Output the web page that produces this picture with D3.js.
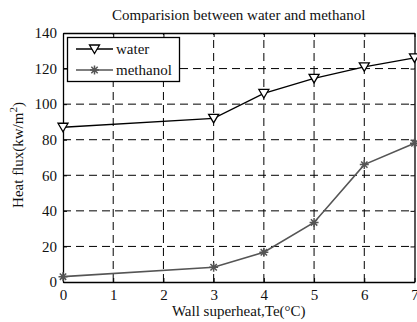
<!DOCTYPE html>
<html><head><meta charset="utf-8">
<script src="https://cdn.jsdelivr.net/npm/d3@7"></script>
<style>body{margin:0;background:#fff}svg{display:block}text{font-family:"Liberation Serif","Times New Roman",serif;fill:#111}</style>
</head><body><svg id="c" width="417" height="322"></svg>
<script>
const xValues = [0, 3, 4, 5, 6, 7];
const water = [87, 92, 106, 114.5, 121, 126];
const methanol = [3, 8.3, 16.7, 33.5, 66, 78];
const xTicks = [0, 1, 2, 3, 4, 5, 6, 7];
const yTicks = [0, 20, 40, 60, 80, 100, 120, 140];
const seriesNames = ["water", "methanol"];

const svg = d3.select("#c");
const L = 63, R = 414.5, T = 33, B = 282;
const x = d3.scaleLinear().domain([0, 7]).range([L, R]);
const y = d3.scaleLinear().domain([0, 140]).range([B, T]);

// grid
const g = svg.append("g");
g.selectAll(".vg").data(xTicks.filter(d => d > 0 && d < 7)).enter().append("line")
  .attr("x1", d => x(d)).attr("x2", d => x(d)).attr("y1", B).attr("y2", T)
  .attr("stroke", "#000").attr("stroke-width", 1).attr("stroke-dasharray", "8,5");
g.selectAll(".hg").data(yTicks.filter(d => d > 0 && d < 140)).enter().append("line")
  .attr("x1", L).attr("x2", R).attr("y1", d => y(d)).attr("y2", d => y(d))
  .attr("stroke", "#000").attr("stroke-width", 1).attr("stroke-dasharray", "8,5");

// axes
const fs = 15;
const xa = svg.append("g").attr("transform", `translate(0,${B})`)
  .call(d3.axisBottom(x).tickValues(xTicks).tickFormat(d3.format("d")).tickSize(-4).tickPadding(7).tickSizeOuter(0));
const xt = svg.append("g").attr("transform", `translate(0,${T})`)
  .call(d3.axisTop(x).tickValues(xTicks).tickSize(-4).tickFormat("").tickSizeOuter(0));
const ya = svg.append("g").attr("transform", `translate(${L},0)`)
  .call(d3.axisLeft(y).tickValues(yTicks).tickFormat(d3.format("d")).tickSize(-4).tickPadding(6).tickSizeOuter(0));
const yr = svg.append("g").attr("transform", `translate(${R},0)`)
  .call(d3.axisRight(y).tickValues(yTicks).tickSize(-4).tickFormat("").tickSizeOuter(0));
[xa, xt, ya, yr].forEach(a => {
  a.attr("font-size", fs).attr("font-family", "Liberation Serif");
  a.selectAll("path").attr("stroke", "#000").attr("stroke-width", 1.3);
  a.selectAll("line").attr("stroke", "#000").attr("stroke-width", 1);
  a.selectAll("text").attr("font-size", fs).attr("fill", "#111");
});

// lines
const line = d3.line().x((d, i) => x(xValues[i])).y(d => y(d));
svg.append("path").datum(water).attr("d", line).attr("fill", "none").attr("stroke", "#000").attr("stroke-width", 1.3);
svg.append("path").datum(methanol).attr("d", line).attr("fill", "none").attr("stroke", "#555").attr("stroke-width", 1.6);

function tri(sel, cx, cy) {
  sel.append("path").attr("d", `M${cx - 5},${cy - 4}L${cx + 5},${cy - 4}L${cx},${cy + 4.5}Z`)
    .attr("fill", "#fff").attr("stroke", "#000").attr("stroke-width", 1.3);
}
function star(sel, cx, cy) {
  const r = 4.5, p = [];
  for (let k = 0; k < 4; k++) {
    const a = k * Math.PI / 4;
    p.push(`M${cx - r * Math.cos(a)},${cy - r * Math.sin(a)}L${cx + r * Math.cos(a)},${cy + r * Math.sin(a)}`);
  }
  sel.append("path").attr("d", p.join("")).attr("stroke", "#555").attr("stroke-width", 1.5).attr("fill", "none");
}
water.forEach((v, i) => tri(svg, x(xValues[i]), y(v)));
methanol.forEach((v, i) => star(svg, x(xValues[i]), y(v)));

// legend
const lg = svg.append("g");
lg.append("rect").attr("x", 67.5).attr("y", 37.5).attr("width", 112).attr("height", 44)
  .attr("fill", "#fff").attr("stroke", "#000").attr("stroke-width", 1.3);
lg.append("line").attr("x1", 76).attr("x2", 113).attr("y1", 49).attr("y2", 49).attr("stroke", "#000").attr("stroke-width", 1.3);
tri(lg, 94.5, 49);
lg.append("text").attr("x", 116).attr("y", 54).attr("font-size", fs).text(seriesNames[0]);
lg.append("line").attr("x1", 76).attr("x2", 113).attr("y1", 70).attr("y2", 70).attr("stroke", "#555").attr("stroke-width", 1.6);
star(lg, 94.5, 70);
lg.append("text").attr("x", 116).attr("y", 75).attr("font-size", fs).text(seriesNames[1]);

// titles
svg.append("text").attr("x", (L + R) / 2).attr("y", 20).attr("text-anchor", "middle").attr("font-size", fs)
  .text("Comparision between water and methanol");
svg.append("text").attr("x", (L + R) / 2).attr("y", 316).attr("text-anchor", "middle").attr("font-size", fs)
  .text("Wall superheat,Te(\u00B0C)");
const yl = svg.append("text").attr("transform", `translate(23,155) rotate(-90)`)
  .attr("text-anchor", "middle").attr("font-size", fs);
yl.append("tspan").text("Heat flux(kw/m");
yl.append("tspan").attr("dy", -6).attr("font-size", 11).text("2");
yl.append("tspan").attr("dy", 6).text(")");
</script></body></html>
